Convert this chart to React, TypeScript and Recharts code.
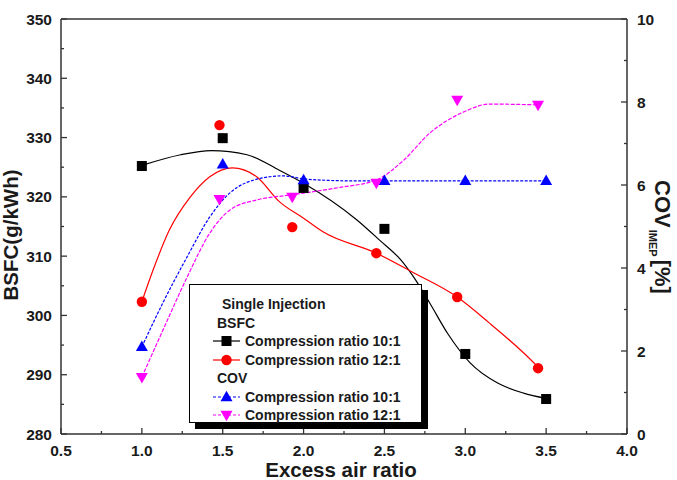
import { ComposedChart, Line, Scatter, XAxis, YAxis, Legend } from "recharts"

// measured points (x = excess air ratio)
const bsfc10X = [1.0, 1.5, 2.0, 2.5, 3.0, 3.5]
const bsfc10Y = [325.2, 329.9, 321.5, 314.6, 293.5, 285.9]
const bsfc12X = [1.0, 1.48, 1.93, 2.45, 2.95, 3.45]
const bsfc12Y = [302.3, 332.1, 314.9, 310.5, 303.1, 291.1]
const cov10X = [1.0, 1.5, 2.0, 2.5, 3.0, 3.5]
const cov10Y = [2.1, 6.5, 6.12, 6.1, 6.1, 6.1]
const cov12X = [1.0, 1.48, 1.93, 2.45, 2.95, 3.45]
const cov12Y = [1.37, 5.66, 5.71, 6.05, 8.05, 7.93]

// fitted curves
const bsfc10FitX = [1.0, 1.24, 1.43, 1.65, 1.85, 2.0, 2.33, 2.47, 2.6, 2.68, 2.78, 2.89, 3.03, 3.2, 3.36, 3.5]
const bsfc10FitY = [325.3, 327.1, 327.8, 327.1, 324.5, 322.3, 316.1, 312.7, 309.4, 306.5, 302.1, 297.0, 292.0, 288.6, 286.9, 286.0]
const bsfc12FitX = [1.0, 1.07, 1.17, 1.3, 1.42, 1.56, 1.71, 1.85, 2.0, 2.12, 2.45, 2.68, 2.95, 3.15, 3.36, 3.45]
const bsfc12FitY = [302.3, 307.7, 314.4, 320.0, 323.4, 324.9, 323.4, 319.2, 316.4, 314.1, 310.5, 307.2, 303.1, 298.7, 293.7, 291.3]
const cov10FitX = [1.0, 1.13, 1.28, 1.42, 1.545, 1.71, 1.87, 2.02, 2.3, 2.5, 3.0, 3.5]
const cov10FitY = [2.1, 3.16, 4.27, 5.23, 5.81, 6.14, 6.22, 6.14, 6.1, 6.1, 6.1, 6.1]
const cov12FitX = [1.0, 1.13, 1.28, 1.42, 1.545, 1.71, 1.92, 2.22, 2.45, 2.62, 2.78, 2.99, 3.15, 3.456]
const cov12FitY = [1.37, 2.5, 3.78, 4.84, 5.4, 5.64, 5.76, 5.94, 6.12, 6.6, 7.25, 7.76, 7.95, 7.93]

const xMajorTicks = [0.5, 1.0, 1.5, 2.0, 2.5, 3.0, 3.5, 4.0]
const xMinorTicks = [0.75, 1.25, 1.75, 2.25, 2.75, 3.25, 3.75]
const leftMajorTicks = [280, 290, 300, 310, 320, 330, 340, 350]
const leftMinorTicks = [285, 295, 305, 315, 325, 335, 345]
const rightMajorTicks = [0, 2, 4, 6, 8, 10]
const rightMinorTicks = [1, 3, 5, 7, 9]

const legendTitle = "Single Injection"
const legendGroups = ["BSFC", "COV"]
const seriesNames = ["Compression ratio 10:1", "Compression ratio 12:1", "Compression ratio 10:1", "Compression ratio 12:1"]

const zip = (xs, ys) => xs.map((x, i) => ({ x, y: ys[i] }))

const FONT = "'Liberation Sans', Arial, sans-serif"
const AXIS = "#333"
const TXT = "#1a1a1a"

const allX = [...xMajorTicks, ...xMinorTicks].sort((a, b) => a - b)
const allLeft = [...leftMajorTicks, ...leftMinorTicks].sort((a, b) => a - b)
const allRight = [...rightMajorTicks, ...rightMinorTicks].sort((a, b) => a - b)

const BottomTick = ({ x, y, payload }) => {
  const major = xMajorTicks.includes(payload.value)
  return (
    <g>
      <line x1={x} x2={x} y1={y} y2={y - (major ? 6 : 3)} stroke={AXIS} strokeWidth={1.3} />
      {major && (
        <text x={x} y={y + 22} textAnchor="middle" fontFamily={FONT} fontWeight="bold" fontSize={15.5} fill={TXT}>
          {payload.value.toFixed(1)}
        </text>
      )}
    </g>
  )
}

const TopTick = ({ x, y, payload }) => {
  const major = xMajorTicks.includes(payload.value)
  return <line x1={x} x2={x} y1={y} y2={y + (major ? 6 : 3)} stroke={AXIS} strokeWidth={1.3} />
}

const LeftTick = ({ x, y, payload }) => {
  const major = leftMajorTicks.includes(payload.value)
  return (
    <g>
      <line x1={x} x2={x + (major ? 6 : 3)} y1={y} y2={y} stroke={AXIS} strokeWidth={1.3} />
      {major && (
        <text x={x - 9} y={y + 5.5} textAnchor="end" fontFamily={FONT} fontWeight="bold" fontSize={15.5} fill={TXT}>
          {payload.value}
        </text>
      )}
    </g>
  )
}

const RightTick = ({ x, y, payload }) => {
  const major = rightMajorTicks.includes(payload.value)
  return (
    <g>
      <line x1={x} x2={x - (major ? 6 : 3)} y1={y} y2={y} stroke={AXIS} strokeWidth={1.3} />
      {major && (
        <text x={x + 10} y={y + 5.5} textAnchor="start" fontFamily={FONT} fontWeight="bold" fontSize={15.5} fill={TXT}>
          {payload.value}
        </text>
      )}
    </g>
  )
}

const Square = ({ cx, cy, s = 10 }) => <rect x={cx - s / 2} y={cy - s / 2} width={s} height={s} fill="#000" />
const Dot = ({ cx, cy, r = 5.2 }) => <circle cx={cx} cy={cy} r={r} fill="#ff0000" />
const TriUp = ({ cx, cy, w = 12, h = 10.5 }) => (
  <polygon points={`${cx},${cy - h * 0.6} ${cx - w / 2},${cy + h * 0.4} ${cx + w / 2},${cy + h * 0.4}`} fill="#0000ff" />
)
const TriDown = ({ cx, cy, w = 12, h = 10.5 }) => (
  <polygon points={`${cx - w / 2},${cy - h * 0.4} ${cx + w / 2},${cy - h * 0.4} ${cx},${cy + h * 0.6}`} fill="#ff00ff" />
)

const legendIcons = [
  { color: "#000", dash: undefined, Marker: Square },
  { color: "#ff0000", dash: undefined, Marker: Dot },
  { color: "#0000ff", dash: "3 2", Marker: TriUp },
  { color: "#ff00ff", dash: "3 2", Marker: TriDown },
]

const rowStyle = { height: 18.5, lineHeight: "18.5px", whiteSpace: "nowrap" as const }

const LegendEntry = ({ i }) => {
  const { color, dash, Marker } = legendIcons[i]
  return (
    <div style={{ ...rowStyle, display: "flex", alignItems: "center", paddingLeft: 22 }}>
      <svg width={30} height={14} style={{ marginRight: 3 }}>
        <line x1={1} x2={28} y1={7} y2={7} stroke={color} strokeWidth={1.2} strokeDasharray={dash} />
        <Marker cx={14.5} cy={7} />
      </svg>
      <span>{seriesNames[i]}</span>
    </div>
  )
}

const LegendBox = () => (
  <div
    style={{
      width: 231,
      height: 127,
      border: "1px solid #000",
      boxShadow: "6px 6px 0 #000",
      background: "#fff",
      fontFamily: FONT,
      fontWeight: "bold",
      fontSize: 14,
      color: TXT,
      paddingTop: 10,
      boxSizing: "content-box",
    }}
  >
    <div style={{ ...rowStyle, paddingLeft: 32 }}>{legendTitle}</div>
    <div style={{ ...rowStyle, paddingLeft: 27 }}>{legendGroups[0]}</div>
    <LegendEntry i={0} />
    <LegendEntry i={1} />
    <div style={{ ...rowStyle, paddingLeft: 27 }}>{legendGroups[1]}</div>
    <LegendEntry i={2} />
    <LegendEntry i={3} />
  </div>
)

export default function App() {
  return (
    <div style={{ position: "absolute", left: 0, top: 0, background: "#fff" }}>
      <ComposedChart width={677} height={480} margin={{ top: 18, right: 49, bottom: 45, left: 60 }}>
        <XAxis
          dataKey="x"
          type="number"
          domain={[0.5, 4]}
          allowDataOverflow
          ticks={allX}
          interval={0}
          height={1}
          tickSize={0}
          tickMargin={0}
          tickLine={false}
          tick={BottomTick}
          axisLine={{ stroke: AXIS, strokeWidth: 1.5 }}
        />
        <XAxis
          xAxisId="top"
          orientation="top"
          type="number"
          domain={[0.5, 4]}
          allowDataOverflow
          ticks={allX}
          interval={0}
          height={1}
          tickSize={0}
          tickMargin={0}
          tickLine={false}
          tick={TopTick}
          axisLine={{ stroke: AXIS, strokeWidth: 1.5 }}
        />
        <YAxis
          yAxisId="left"
          type="number"
          domain={[280, 350]}
          allowDataOverflow
          ticks={allLeft}
          interval={0}
          width={1}
          tickSize={0}
          tickMargin={0}
          tickLine={false}
          tick={LeftTick}
          axisLine={{ stroke: AXIS, strokeWidth: 1.5 }}
        />
        <YAxis
          yAxisId="right"
          orientation="right"
          type="number"
          domain={[0, 10]}
          allowDataOverflow
          ticks={allRight}
          interval={0}
          width={1}
          tickSize={0}
          tickMargin={0}
          tickLine={false}
          tick={RightTick}
          axisLine={{ stroke: AXIS, strokeWidth: 1.5 }}
        />

        <Line yAxisId="left" data={zip(bsfc10FitX, bsfc10FitY)} dataKey="y" type="monotone" stroke="#000" strokeWidth={1.2} dot={false} isAnimationActive={false} />
        <Line yAxisId="left" data={zip(bsfc12FitX, bsfc12FitY)} dataKey="y" type="monotone" stroke="#ff0000" strokeWidth={1.2} dot={false} isAnimationActive={false} />
        <Line yAxisId="right" data={zip(cov10FitX, cov10FitY)} dataKey="y" type="monotone" stroke="#0000ff" strokeWidth={1.2} strokeDasharray="3 1.5" dot={false} isAnimationActive={false} />
        <Line yAxisId="right" data={zip(cov12FitX, cov12FitY)} dataKey="y" type="monotone" stroke="#ff00ff" strokeWidth={1.2} strokeDasharray="4 1.5" dot={false} isAnimationActive={false} />

        <Scatter yAxisId="left" data={zip(bsfc10X, bsfc10Y)} dataKey="y" shape={(p) => <Square cx={p.cx} cy={p.cy} />} isAnimationActive={false} />
        <Scatter yAxisId="left" data={zip(bsfc12X, bsfc12Y)} dataKey="y" shape={(p) => <Dot cx={p.cx} cy={p.cy} />} isAnimationActive={false} />
        <Scatter yAxisId="right" data={zip(cov10X, cov10Y)} dataKey="y" shape={(p) => <TriUp cx={p.cx} cy={p.cy} />} isAnimationActive={false} />
        <Scatter yAxisId="right" data={zip(cov12X, cov12Y)} dataKey="y" shape={(p) => <TriDown cx={p.cx} cy={p.cy} />} isAnimationActive={false} />

        <Legend
          layout="horizontal"
          align="center"
          verticalAlign="middle"
          content={() => <LegendBox />}
          wrapperStyle={{ position: "absolute", left: 189, top: 284, width: "auto", height: "auto" }}
        />

        <text x={341} y={477} textAnchor="middle" fontFamily={FONT} fontWeight="bold" fontSize={20.5} fill={TXT}>
          Excess air ratio
        </text>
        <text transform="translate(18, 235) rotate(-90)" textAnchor="middle" fontFamily={FONT} fontWeight="bold" fontSize={20.5} fill={TXT}>
          BSFC(g/kWh)
        </text>
        <text transform="translate(655, 237) rotate(90)" textAnchor="middle" fontFamily={FONT} fontWeight="bold" fill={TXT}>
          <tspan fontSize={22}>COV</tspan>
          <tspan fontSize={11} dy={6} dx={2}>IMEP</tspan>
          <tspan fontSize={22} dy={-6} dx={3}>[%]</tspan>
        </text>
      </ComposedChart>
    </div>
  )
}
